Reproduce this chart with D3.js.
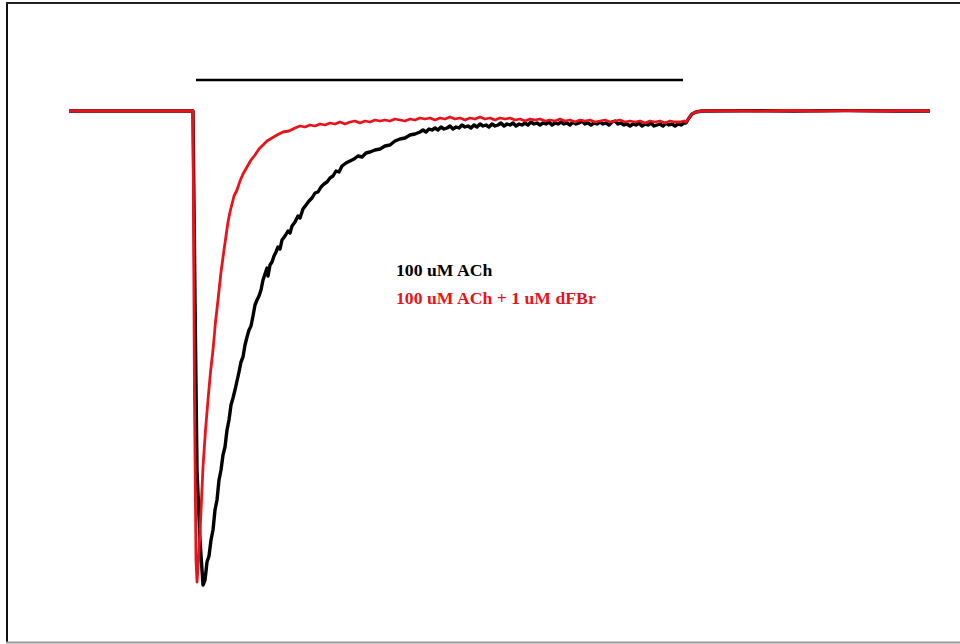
<!DOCTYPE html>
<html>
<head>
<meta charset="utf-8">
<script src="https://cdn.jsdelivr.net/npm/d3@7"></script>
<style>
  html, body { margin: 0; padding: 0; background: #fff; }
  svg { display: block; }
</style>
</head>
<body>
<svg id="chart" width="960" height="644"></svg>
<script>
// Whole-cell current traces (time in ms, current in nA, baseline = 0)
// Control response: 100 uM ACh
const controlTime = [0, 496, 504, 512, 524, 536, 544, 552, 560, 568, 576, 584, 592, 600, 608, 616, 624, 632, 640, 648, 656, 664, 672, 680, 688, 696, 704, 712, 720, 728, 736, 744, 752, 760, 768, 776, 784, 792, 796, 804, 812, 820, 828, 836, 844, 852, 864, 876, 884, 892, 904, 916, 924, 936, 948, 960, 972, 984, 996, 1008, 1020, 1032, 1044, 1056, 1068, 1080, 1092, 1108, 1124, 1140, 1156, 1172, 1188, 1204, 1224, 1244, 1264, 1284, 1304, 1324, 1344, 1364, 1384,
  1404, 1416, 1428, 1440, 1452, 1464, 1476, 1488, 1500, 1512, 1524, 1536, 1548, 1560, 1572, 1584, 1596, 1608, 1620, 1632, 1644, 1656, 1668, 1680, 1692, 1704, 1716, 1728, 1740, 1752, 1764, 1776, 1788, 1800, 1812, 1824, 1836, 1848, 1860, 1872, 1884, 1896, 1908, 1920, 1932, 1944, 1956, 1968, 1980, 1992, 2004, 2016, 2028, 2040, 2052, 2064, 2076, 2088, 2100, 2112, 2124, 2136, 2148, 2160, 2172, 2184, 2196, 2208, 2220, 2232, 2244, 2256, 2268, 2280, 2292, 2304, 2316, 2328, 2340, 2352, 2364, 2376, 2388, 2400, 2412, 2424, 2436, 2448, 2460,
  2468, 2480, 2492, 2508, 2532, 2700, 2900, 3100, 3300, 3444];
const controlCurrent = [0, 0, -1.89, -3.59, -4.29, -4.74, -4.69, -4.51, -4.45, -4.29, -4.19, -3.99, -3.89, -3.69, -3.59, -3.44, -3.36, -3.19, -3.09, -2.94, -2.87, -2.79, -2.70, -2.61, -2.51, -2.46, -2.34, -2.26, -2.19, -2.15, -2.05, -1.94, -1.89, -1.85, -1.79, -1.69, -1.63, -1.57, -1.65, -1.54, -1.51, -1.45, -1.41, -1.36, -1.38, -1.29, -1.25, -1.20, -1.22, -1.15, -1.11, -1.05, -1.07, -0.98, -0.94, -0.90, -0.87, -0.82, -0.81, -0.76, -0.73, -0.71, -0.67, -0.65, -0.60, -0.61, -0.55, -0.52, -0.50, -0.48, -0.45, -0.46, -0.42, -0.41, -0.39, -0.38, -0.35, -0.34, -0.30, -0.28, -0.27, -0.24, -0.23,
  -0.21, -0.19, -0.21, -0.18, -0.19, -0.17, -0.19, -0.16, -0.18, -0.17, -0.15, -0.18, -0.16, -0.17, -0.14, -0.16, -0.15, -0.17, -0.14, -0.16, -0.13, -0.15, -0.14, -0.16, -0.13, -0.15, -0.14, -0.12, -0.15, -0.13, -0.14, -0.12, -0.15, -0.13, -0.14, -0.12, -0.14, -0.11, -0.13, -0.12, -0.14, -0.12, -0.13, -0.11, -0.14, -0.12, -0.13, -0.11, -0.13, -0.12, -0.14, -0.11, -0.13, -0.12, -0.10, -0.13, -0.12, -0.14, -0.12, -0.13, -0.11, -0.13, -0.12, -0.14, -0.11, -0.10, -0.13, -0.12, -0.14, -0.13, -0.15, -0.13, -0.14, -0.12, -0.15, -0.13, -0.14, -0.12, -0.15, -0.14, -0.13, -0.15, -0.12, -0.14, -0.13, -0.15, -0.13, -0.14, -0.12,
  -0.12, -0.07, -0.03, -0.01, 0, 0.003, 0, 0.004, 0, 0];

// Response with modulator: 100 uM ACh + 1 uM dFBr
const dfbrTime = [0, 496, 502, 508, 512, 518, 524, 536, 546, 556, 566, 576, 586, 596, 608, 620, 628, 636, 644, 652, 660, 672, 684, 696, 712, 728, 744, 760, 776, 792, 812, 832, 856, 880,
  904, 924, 944, 964, 984, 1004, 1024, 1044, 1064, 1084, 1104, 1124, 1144, 1164, 1184, 1204, 1224, 1244, 1264, 1284, 1304, 1324, 1344, 1364, 1384, 1404, 1424, 1444, 1464, 1484, 1504, 1524, 1544, 1564, 1584, 1604, 1624, 1644, 1664, 1684, 1704, 1724, 1744, 1764, 1784, 1804, 1824, 1844, 1864, 1884, 1904, 1924, 1944, 1964, 1984, 2004, 2024, 2044, 2064, 2084, 2104, 2124, 2144, 2164, 2184, 2204, 2224, 2244, 2264, 2284, 2304, 2324, 2344, 2364, 2384, 2404, 2424, 2444,
  2460, 2468, 2480, 2492, 2508, 2532, 2650, 2764, 2880, 3004, 3120, 3244, 3360, 3444];
const dfbrCurrent = [0, 0, -2.89, -4.49, -4.71, -4.49, -4.22, -3.56, -3.19, -2.89, -2.61, -2.39, -2.11, -1.89, -1.61, -1.39, -1.25, -1.11, -1.01, -0.93, -0.85, -0.79, -0.70, -0.63, -0.56, -0.49, -0.44, -0.38, -0.34, -0.30, -0.27, -0.24, -0.21, -0.20,
  -0.17, -0.15, -0.16, -0.14, -0.15, -0.13, -0.14, -0.12, -0.13, -0.11, -0.13, -0.11, -0.10, -0.12, -0.10, -0.11, -0.09, -0.10, -0.09, -0.10, -0.08, -0.09, -0.10, -0.08, -0.09, -0.07, -0.08, -0.07, -0.09, -0.07, -0.08, -0.06, -0.08, -0.07, -0.09, -0.07, -0.08, -0.06, -0.08, -0.07, -0.09, -0.07, -0.08, -0.07, -0.09, -0.08, -0.10, -0.08, -0.09, -0.08, -0.10, -0.09, -0.10, -0.08, -0.10, -0.09, -0.11, -0.09, -0.10, -0.09, -0.11, -0.10, -0.09, -0.11, -0.10, -0.09, -0.11, -0.10, -0.11, -0.10, -0.12, -0.10, -0.11, -0.10, -0.12, -0.10, -0.11, -0.11,
  -0.10, -0.11, -0.07, -0.03, -0.01, 0, 0.004, 0, 0.005, 0, 0.003, 0, 0.004, 0];

// Agonist application bar (ms) and its level (nA)
const agonistStart = 508;
const agonistEnd = 2456;
const agonistLevel = 0.31;

const legendLabels = ["100 uM ACh", "100 uM ACh + 1 uM dFBr"];
const seriesColors = ["#000000", "#e8141b"];

const svg = d3.select("#chart");

const x = d3.scaleLinear().domain([0, 3444]).range([69, 930]);
const y = d3.scaleLinear().domain([-5.3, 0.7]).range([641, 41]);

// Frame
svg.append("line").attr("x1", 7).attr("x2", 7).attr("y1", 3).attr("y2", 642)
  .attr("stroke", "#111").attr("stroke-width", 2);
svg.append("line").attr("x1", 6).attr("x2", 960).attr("y1", 3).attr("y2", 3)
  .attr("stroke", "#222").attr("stroke-width", 2);
svg.append("line").attr("x1", 6).attr("x2", 960).attr("y1", 642.5).attr("y2", 642.5)
  .attr("stroke", "#9a9a9a").attr("stroke-width", 2);

// Agonist application bar
svg.append("line")
  .attr("x1", x(agonistStart)).attr("x2", x(agonistEnd))
  .attr("y1", y(agonistLevel)).attr("y2", y(agonistLevel))
  .attr("stroke", "#000").attr("stroke-width", 2.6);

const line = d3.line().x(d => x(d[0])).y(d => y(d[1]));

const controlData = controlTime.map((t, i) => [t, controlCurrent[i]]);
const dfbrData = dfbrTime.map((t, i) => [t, dfbrCurrent[i]]);

svg.append("path").datum(controlData)
  .attr("d", line).attr("fill", "none")
  .attr("stroke", seriesColors[0]).attr("stroke-width", 3.4)
  .attr("stroke-linejoin", "round");

svg.append("path").datum(dfbrData)
  .attr("d", line).attr("fill", "none")
  .attr("stroke", seriesColors[1]).attr("stroke-width", 2.8)
  .attr("stroke-linejoin", "round");

// Legend text
const legend = svg.append("g").attr("transform", "translate(396,276)");
legend.selectAll("text").data(legendLabels).join("text")
  .attr("x", 0).attr("y", (d, i) => i * 28)
  .attr("fill", (d, i) => seriesColors[i])
  .attr("font-family", "'Liberation Serif', 'Times New Roman', serif")
  .attr("font-weight", "bold")
  .attr("font-size", 17.7)
  .text(d => d);
</script>
</body>
</html>
